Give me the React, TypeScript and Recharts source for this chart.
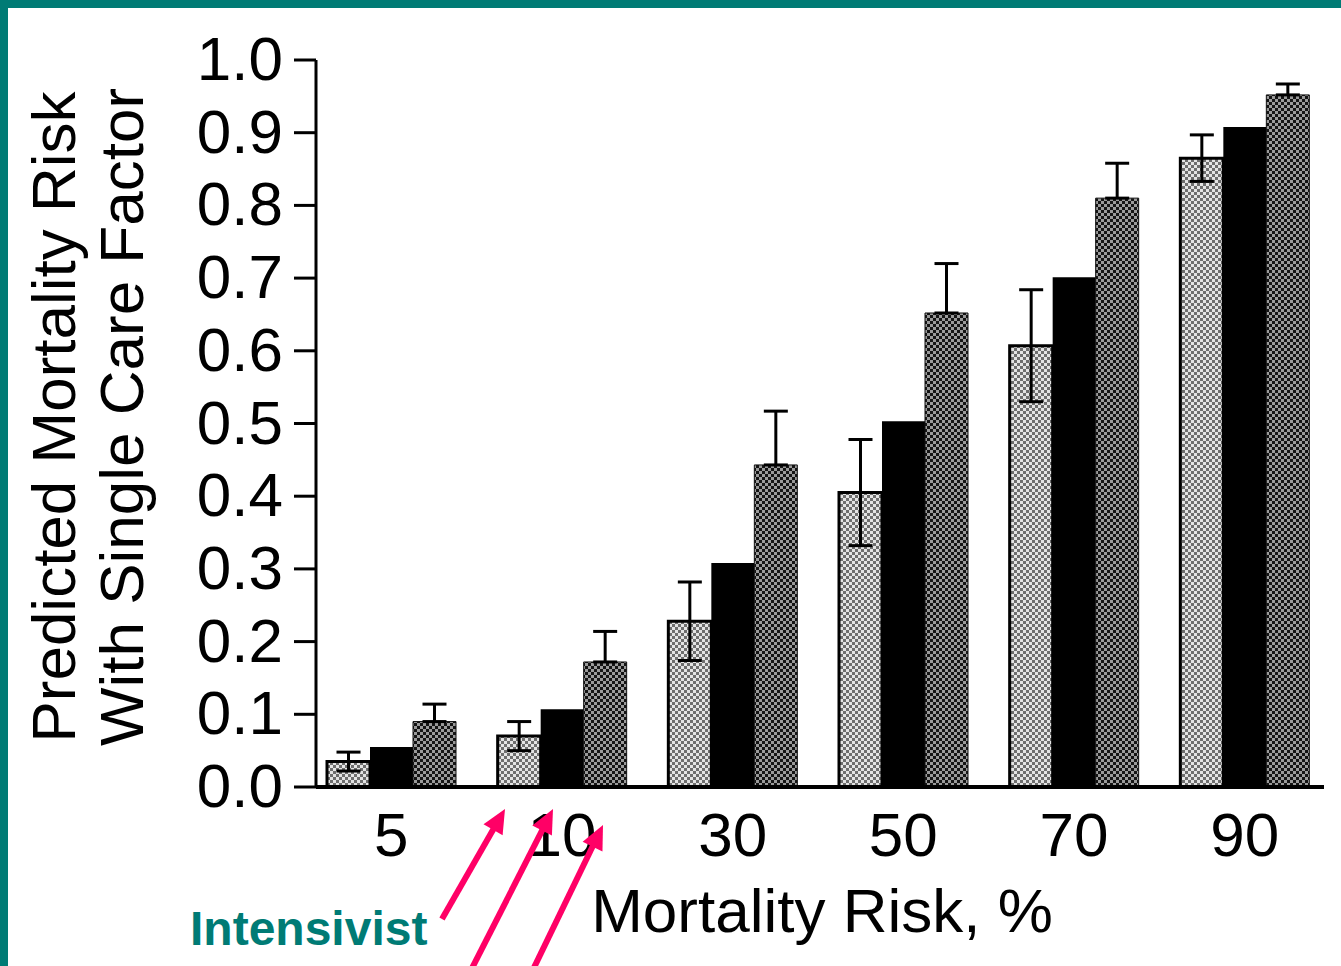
import { BarChart, Bar, XAxis, YAxis, ErrorBar } from 'recharts'

const FONT = "'Liberation Sans', Arial, Helvetica, sans-serif"
const TEAL = '#007b75'
const PINK = '#ff0066'

// mortality risk groups (x axis)
const riskLevels = ['5', '10', '30', '50', '70', '90']
// predicted mortality, three care-factor groups
const intensivist = [0.035, 0.07, 0.228, 0.405, 0.607, 0.865]
const intensivistErr = [0.013, 0.02, 0.054, 0.073, 0.077, 0.032]
const mixed = [0.055, 0.107, 0.308, 0.503, 0.701, 0.908]
const nonIntensivist = [0.09, 0.172, 0.443, 0.652, 0.81, 0.952]
const nonIntensivistErr = [0.024, 0.042, 0.074, 0.068, 0.048, 0.015]
const yTicks = [0, 0.1, 0.2, 0.3, 0.4, 0.5, 0.6, 0.7, 0.8, 0.9, 1.0]

// lower whisker of the dark bars disappears into the pattern in the original,
// so only the upper half is drawn
const data = riskLevels.map((risk, i) => ({
  risk,
  intensivist: intensivist[i],
  intensivistErr: intensivistErr[i],
  mixed: mixed[i],
  nonIntensivist: nonIntensivist[i],
  nonIntensivistErr: [0, nonIntensivistErr[i]],
}))

function Arrow({ x1, y1, x2, y2 }: { x1: number; y1: number; x2: number; y2: number }) {
  const dx = x2 - x1
  const dy = y2 - y1
  const len = Math.hypot(dx, dy)
  const ux = dx / len
  const uy = dy / len
  const head = 24
  const half = 11
  const bx = x2 - ux * head
  const by = y2 - uy * head
  const pts = `${x2},${y2} ${bx - uy * half},${by + ux * half} ${bx + uy * half},${by - ux * half}`
  return (
    <g>
      <line x1={x1} y1={y1} x2={bx + ux * 2} y2={by + uy * 2} stroke={PINK} strokeWidth={6} />
      <polygon points={pts} fill={PINK} />
    </g>
  )
}

export default function App() {
  return (
    <div style={{ position: 'absolute', left: 0, top: 0, width: 1341, height: 966, background: '#fff', overflow: 'hidden' }}>
      <div style={{ position: 'absolute', left: 0, top: 0, width: 1341, height: 8, background: TEAL }} />
      <div style={{ position: 'absolute', left: 0, top: 0, width: 8, height: 966, background: TEAL }} />
      <div style={{ position: 'absolute', left: 0, top: 0 }}>
        <BarChart
          width={1341}
          height={966}
          data={data}
          margin={{ top: 60, right: 17, bottom: 79, left: 196 }}
          barGap={0}
          barSize={43}
        >
          <defs>
            <pattern id="lightDots" width="6" height="6" patternUnits="userSpaceOnUse">
              <rect width="6" height="6" fill="#e4e4e4" />
              <rect width="3" height="3" fill="#6e6e6e" />
              <rect x="3" y="3" width="3" height="3" fill="#6e6e6e" />
            </pattern>
            <pattern id="darkDots" width="6" height="6" patternUnits="userSpaceOnUse">
              <rect width="6" height="6" fill="#141414" />
              <rect width="3" height="3" fill="#9a9a9a" />
              <rect x="3" y="3" width="3" height="3" fill="#9a9a9a" />
            </pattern>
          </defs>
          <XAxis
            dataKey="risk"
            height={100}
            padding={{ left: -10, right: -6 }}
            axisLine={{ stroke: '#000', strokeWidth: 4 }}
            tickLine={false}
            tickSize={0}
            tickMargin={25}
            tick={{ fill: '#000', fontSize: 62, fontFamily: FONT }}
          />
          <YAxis
            width={120}
            domain={[0, 1]}
            ticks={yTicks}
            interval={0}
            tickFormatter={(v: number) => v.toFixed(1)}
            axisLine={{ stroke: '#000', strokeWidth: 3 }}
            tickLine={{ stroke: '#000', strokeWidth: 3 }}
            tickSize={22}
            tickMargin={11}
            tick={{ fill: '#000', fontSize: 62, fontFamily: FONT, dy: -2 }}
          />
          <Bar dataKey="intensivist" fill="url(#lightDots)" stroke="#000" strokeWidth={3} isAnimationActive={false}>
            <ErrorBar dataKey="intensivistErr" width={12} stroke="#000" strokeWidth={3} direction="y" />
          </Bar>
          <Bar dataKey="mixed" fill="#000" isAnimationActive={false} />
          <Bar dataKey="nonIntensivist" fill="url(#darkDots)" stroke="#111" strokeWidth={1} isAnimationActive={false}>
            <ErrorBar dataKey="nonIntensivistErr" width={12} stroke="#000" strokeWidth={3} direction="y" />
          </Bar>
        </BarChart>
      </div>
      <svg width={1341} height={966} style={{ position: 'absolute', left: 0, top: 0, pointerEvents: 'none' }}>
        <text
          x={75}
          y={417}
          transform="rotate(-90 75 417)"
          textAnchor="middle"
          fontSize={62}
          fontFamily={FONT}
          fill="#000"
        >
          Predicted Mortality Risk
        </text>
        <text
          x={143}
          y={417}
          transform="rotate(-90 143 417)"
          textAnchor="middle"
          fontSize={62}
          fontFamily={FONT}
          fill="#000"
        >
          With Single Care Factor
        </text>
        <text x={822} y={932} textAnchor="middle" fontSize={62} fontFamily={FONT} fill="#000">
          Mortality Risk, %
        </text>
        <text x={190} y={945} fontSize={48} fontWeight="bold" fontFamily={FONT} fill={TEAL}>
          Intensivist
        </text>
        <Arrow x1={442} y1={919} x2={505} y2={809} />
        <Arrow x1={466} y1={980} x2={553} y2={809} />
        <Arrow x1={528} y1={980} x2={603} y2={825} />
      </svg>
    </div>
  )
}
